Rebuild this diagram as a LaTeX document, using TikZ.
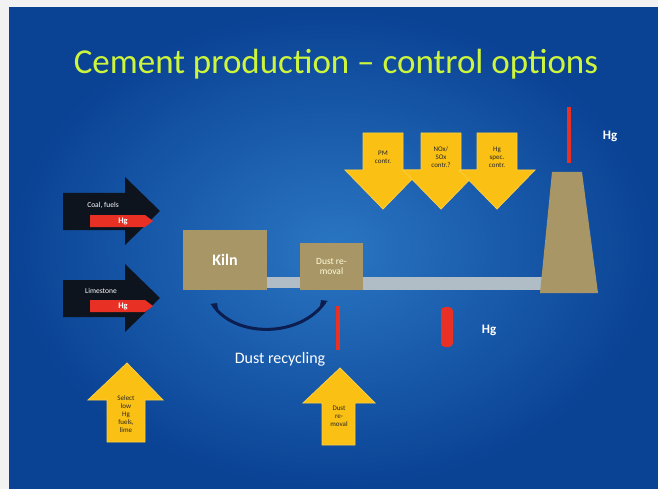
\documentclass[tikz,border=0pt]{standalone}
\usepackage{fontspec}
\setmainfont{Carlito}
\definecolor{bgin}{RGB}{42,118,195}
\definecolor{bgout}{RGB}{10,66,148}
\definecolor{titlecol}{RGB}{205,245,60}
\definecolor{tan}{RGB}{168,150,102}
\definecolor{pipe}{RGB}{176,188,198}
\definecolor{gold}{RGB}{250,192,20}
\definecolor{hgred}{RGB}{232,48,36}
\definecolor{blk}{RGB}{14,20,30}
\definecolor{navy}{RGB}{12,30,80}
\tikzset{
  blkarrow/.style={fill=blk},
  redarrow/.style={fill=hgred},
  yelarrow/.style={fill=gold, draw=gold!80!white, line width=0.8pt},
  tanbox/.style={fill=tan},
  pipebar/.style={fill=pipe},
  hgline/.style={draw=hgred, line width=4pt},
  wlabel/.style={text=white, font=\fontsize{13}{15}\selectfont},
  small/.style={text=white, font=\fontsize{7.5}{8}\selectfont, inner sep=0pt},
  arrtext/.style={text=black!85, font=\fontsize{7}{8}\selectfont, align=center, inner sep=0pt}
}
\begin{document}
\begin{tikzpicture}[x=1pt,y=-1pt]
\useasboundingbox (0,0) rectangle (658,489);
\fill[black!5] (0,0) rectangle (658,489);
\shade[inner color=bgin, outer color=bgout, shading=radial] (9,8) rectangle (658,489);
% title
\node[text=titlecol, font=\fontsize{35}{40}\selectfont] (title) at (336,64) {Cement production -- control options};
% black input arrows
\fill[blkarrow] (63,193) -- (125,193) -- (125,177) -- (160,211) -- (125,245) -- (125,230) -- (63,230) -- cycle;
\fill[redarrow] (90,215) -- (145,215) -- (153,221) -- (145,227) -- (90,227) -- cycle;
\node[small] (coal) at (103,205) {Coal, fuels};
\node[small, font=\fontsize{8.5}{9}\selectfont\bfseries] (hg1) at (123,221) {Hg};
\fill[blkarrow] (63,280) -- (125,280) -- (125,264) -- (160,298) -- (125,332) -- (125,317) -- (63,317) -- cycle;
\fill[redarrow] (90,300) -- (145,300) -- (153,306) -- (145,312) -- (90,312) -- cycle;
\node[small] (lime) at (101,291) {Limestone};
\node[small, font=\fontsize{8.5}{9}\selectfont\bfseries] (hg2) at (123,306) {Hg};
% pipes
\fill[pipebar] (265,277) rectangle (302,288);
\fill[pipebar] (361,277) rectangle (542,290);
% kiln
\node[tanbox, minimum width=84pt, minimum height=60pt, inner sep=0pt, text=white, font=\fontsize{16}{18}\selectfont\bfseries] (kiln) at (225,260) {Kiln};
% dust removal
\node[tanbox, minimum width=63pt, minimum height=47pt, inner sep=0pt, text=white!85!yellow, align=center, font=\fontsize{9.5}{10.5}\selectfont] (dust) at (331.5,266.5) {Dust re-\\moval};
% chimney
\fill[tan] (552,172) -- (582,172) -- (598,293) -- (540,293) -- cycle;
\draw[hgline, line width=3.5pt] (569,107) -- (569,163);
\node[wlabel, font=\fontsize{13}{15}\selectfont\bfseries] (hgc) at (610,136) {Hg};
% recycling arc
\coordinate (arcL) at (213,305);
\coordinate (arcR) at (325,302);
\draw[navy, line width=3pt, line cap=round] (arcL) .. controls (235,338) and (300,338) .. (arcR);
\fill[navy] (arcL) ++(-3,-1) -- ++(7,-1) -- ++(1,6) -- cycle;
\fill[navy] (arcR) ++(3,-1) -- ++(-7,-1) -- ++(-1,6) -- cycle;
% red lines below
\draw[hgline, line width=3.5pt] (338,306) -- (338,350);
\fill[hgred, rounded corners=4pt] (441,307) rectangle (453,347);
\node[wlabel, font=\fontsize{13}{15}\selectfont\bfseries] (hgb) at (489,330) {Hg};
\node[wlabel, font=\fontsize{16}{18}\selectfont] (recyc) at (280,359) {Dust recycling};
% yellow down arrows
\foreach \cx/\nm/\txt in {383/pm/{PM\\contr.}, 441/nox/{NOx/\\SOx\\contr.?}, 497/hgs/{Hg\\spec.\\contr.}}{
  \filldraw[yelarrow] (\cx-20,133) -- (\cx+20,133) -- (\cx+20,170) -- (\cx+38,170) -- (\cx,209) -- (\cx-38,170) -- (\cx-20,170) -- cycle;
  \node[arrtext] (\nm) at (\cx,157) {\txt};
}
% yellow up arrows
\filldraw[yelarrow] (107,442) -- (107,400) -- (88,400) -- (127,363) -- (163,400) -- (145,400) -- (145,442) -- cycle;
\node[arrtext] (sel) at (126,414) {Select\\low\\Hg\\fuels,\\lime};
\filldraw[yelarrow] (322,445) -- (322,403) -- (303,403) -- (340,368) -- (375,403) -- (355,403) -- (355,445) -- cycle;
\node[arrtext] (dr) at (339,416) {Dust\\re-\\moval};
\end{tikzpicture}
\end{document}
